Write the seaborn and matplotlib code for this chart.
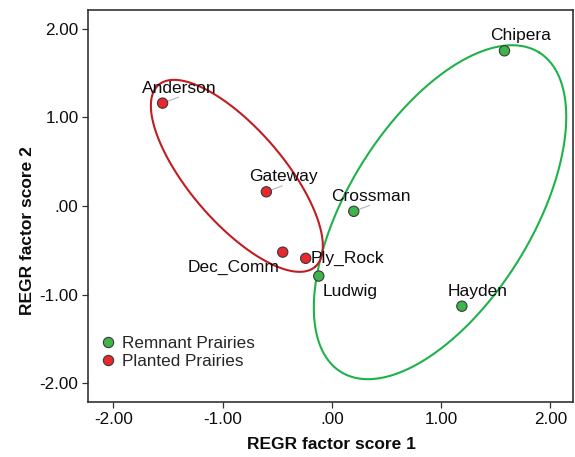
import numpy as np
import pandas as pd
import matplotlib
matplotlib.use("Agg")
import matplotlib.pyplot as plt
import seaborn as sns

# ---- data ----
sites = ["Chipera", "Crossman", "Ludwig", "Hayden", "Anderson", "Gateway", "Dec_Comm", "Ply_Rock"]
groups = ["Remnant Prairies"] * 4 + ["Planted Prairies"] * 4
score1 = [1.58, 0.20, -0.12, 1.19, -1.55, -0.60, -0.45, -0.24]
score2 = [1.75, -0.06, -0.79, -1.13, 1.16, 0.16, -0.52, -0.59]
tick_values = [-2, -1, 0, 1, 2]
tick_labels = ["-2.00", "-1.00", ".00", "1.00", "2.00"]
group_order = ["Remnant Prairies", "Planted Prairies"]
# confidence ellipses (center in data units)
ell_cx = [0.99, -0.87]
ell_cy = [-0.07, 0.34]

df = pd.DataFrame({"site": sites, "group": groups, "s1": score1, "s2": score2})

# ---- styles ----
sns.set_style("ticks")
plt.rcParams["font.family"] = ["Liberation Sans", "DejaVu Sans"]

fill_colors = {"Remnant Prairies": "#3db54a", "Planted Prairies": "#e8282d"}
ell_colors = ["#1fb24a", "#c01d22"]
ell_geom = [(188, 92, 58.2), (120, 47, -49.3)]  # semi-axes in px, angle deg

# label placement: (dx px, dy px, ha, leader)
label_style = {
    "Chipera": (16, 11, "center", False),
    "Crossman": (17, 10, "center", True),
    "Ludwig": (4, -20, "left", False),
    "Hayden": (16, 10, "center", False),
    "Anderson": (17, 10, "center", True),
    "Gateway": (17, 11, "center", True),
    "Dec_Comm": (-3, -20, "right", False),
    "Ply_Rock": (5, -5, "left", False),
}

W, H = 575, 457
fig = plt.figure(figsize=(W / 100, H / 100), dpi=100)
L, R, T, B = 88.3, 573.3, 10, 402
ax = fig.add_axes([L / W, 1 - B / H, (R - L) / W, (B - T) / H])
ax.set_xlim(-2.23, 2.21)
ax.set_ylim(-2.21, 2.21)

sns.scatterplot(data=df, x="s1", y="s2", hue="group", hue_order=group_order,
                palette=fill_colors, s=55, edgecolor="#3a3a3a", linewidth=0.8,
                ax=ax, zorder=4)

# ellipses
bbox = ax.get_window_extent()
xl, yl = ax.get_xlim(), ax.get_ylim()
sx = bbox.width / (xl[1] - xl[0])
sy = bbox.height / (yl[1] - yl[0])
t = np.linspace(0, 2 * np.pi, 500)
for cx, cy, (a, b, th), col in zip(ell_cx, ell_cy, ell_geom, ell_colors):
    thr = np.deg2rad(th)
    dx = a * np.cos(t) * np.cos(thr) - b * np.sin(t) * np.sin(thr)
    dy = a * np.cos(t) * np.sin(thr) + b * np.sin(t) * np.cos(thr)
    ax.plot(cx + dx / sx, cy + dy / sy, color=col, lw=1.5, zorder=3)

# point labels
for name, x, y in zip(sites, score1, score2):
    dx, dy, ha, leader = label_style[name]
    ax.annotate(name, xy=(x, y), xytext=(dx, dy), textcoords="offset pixels",
                ha=ha, va="baseline", fontsize=12.5, color="#0d0d0d", zorder=5)
    if leader:
        ax.annotate("", xy=(x, y), xytext=(16, 6), textcoords="offset pixels",
                    arrowprops=dict(arrowstyle="-", color="#b5b5b5", lw=0.8,
                                    shrinkA=0, shrinkB=4), zorder=2)

# axes styling
ax.set_xticks(tick_values)
ax.set_xticklabels(tick_labels)
ax.set_yticks(tick_values)
ax.set_yticklabels(tick_labels)
ax.tick_params(direction="out", length=4, width=0.9, color="#333333",
               labelcolor="#0d0d0d", labelsize=12.3, pad=3)
for sp in ax.spines.values():
    sp.set_color("#333333")
    sp.set_linewidth(1.2)
    sp.set_visible(True)

ax.set_xlabel("REGR factor score 1", fontsize=12.5, fontweight="bold", color="#0d0d0d")
ax.set_ylabel("REGR factor score 2", fontsize=12.5, fontweight="bold", color="#0d0d0d")
ax.xaxis.set_label_coords((331.5 - L) / (R - L), -0.089)
ax.yaxis.set_label_coords(-0.11, (B - 231) / (B - T))

handles, labels = ax.get_legend_handles_labels()
ax.legend(handles, labels, loc="upper left",
          bbox_to_anchor=((99.5 - L) / (R - L), (B - 336) / (B - T)),
          frameon=False, fontsize=12.3, borderaxespad=0, borderpad=0,
          handlelength=1.0, handletextpad=0.3, labelspacing=0.2)

fig.savefig("out.png", dpi=100)
